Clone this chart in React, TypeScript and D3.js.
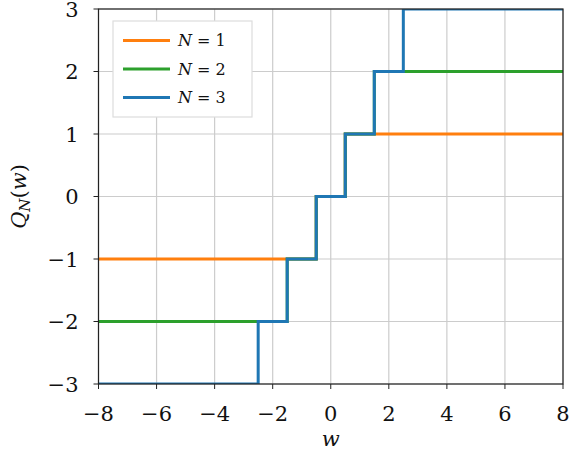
import React from "react";
import * as d3 from "d3";

const xEdges = [-8, -2.5, -1.5, -0.5, 0.5, 1.5, 2.5, 8];
const n1Levels = [-1, -1, -1, 0, 1, 1, 1];
const n2Levels = [-2, -2, -1, 0, 1, 2, 2];
const n3Levels = [-3, -2, -1, 0, 1, 2, 3];
const seriesNames = ["N = 1", "N = 2", "N = 3"];
const seriesNs = ["1", "2", "3"];
const seriesColors = ["#ff7f0e", "#2ca02c", "#1f77b4"];
const xTicks = [-8, -6, -4, -2, 0, 2, 4, 6, 8];
const yTicks = [-3, -2, -1, 0, 1, 2, 3];

const W = 570, H = 456;
const L = 98.5, R = 563, T = 9, B = 384;
const FONT = "'DejaVu Serif', serif";

const fmt = (v: number) => (v < 0 ? "\u2212" + Math.abs(v) : String(v));

export default function App() {
  const x = d3.scaleLinear().domain([-8, 8]).range([L, R]);
  const y = d3.scaleLinear().domain([-3, 3]).range([B, T]);
  const line = d3
    .line<[number, number]>()
    .x((d) => x(d[0]))
    .y((d) => y(d[1]))
    .curve(d3.curveStepAfter);
  const mk = (levels: number[]) => {
    const pts: [number, number][] = levels.map((l, i) => [xEdges[i], l]);
    pts.push([xEdges[xEdges.length - 1], levels[levels.length - 1]]);
    return line(pts) || "";
  };
  const allLevels = [n1Levels, n2Levels, n3Levels];

  return (
    <svg width={W} height={H} style={{ position: "absolute", left: 0, top: 0, fontFamily: FONT }}>
      <defs>
        <clipPath id="plotclip">
          <rect x={L} y={T} width={R - L} height={B - T} />
        </clipPath>
      </defs>
      <rect x={0} y={0} width={W} height={H} fill="white" />
      {xTicks.map((t) => (
        <line key={"gx" + t} x1={x(t)} x2={x(t)} y1={T} y2={B} stroke="#cccccc" strokeWidth={1.2} />
      ))}
      {yTicks.map((t) => (
        <line key={"gy" + t} x1={L} x2={R} y1={y(t)} y2={y(t)} stroke="#cccccc" strokeWidth={1.2} />
      ))}
      <g clipPath="url(#plotclip)">
        {allLevels.map((lv, i) => (
          <path key={i} d={mk(lv)} fill="none" stroke={seriesColors[i]} strokeWidth={3} />
        ))}
      </g>
      <rect x={L} y={T} width={R - L} height={B - T} fill="none" stroke="#222" strokeWidth={1.2} />
      {xTicks.map((t) => (
        <g key={"tx" + t}>
          <line x1={x(t)} x2={x(t)} y1={B} y2={B + 5} stroke="#222" strokeWidth={1} />
          <text x={x(t)} y={B + 37} textAnchor="middle" fontSize={21} fill="#111" style={{ fontFamily: FONT }}>
            {fmt(t)}
          </text>
        </g>
      ))}
      {yTicks.map((t) => (
        <g key={"ty" + t}>
          <line x1={L - 5} x2={L} y1={y(t)} y2={y(t)} stroke="#222" strokeWidth={1} />
          <text x={L - 20} y={y(t)} dy="0.36em" textAnchor="end" fontSize={21} fill="#111" style={{ fontFamily: FONT }}>
            {fmt(t)}
          </text>
        </g>
      ))}
      <text x={(L + R) / 2} y={446} textAnchor="middle" fontSize={21} fontStyle="italic" fill="#111" style={{ fontFamily: FONT }}>
        w
      </text>
      <text
        transform={`translate(26,${(T + B) / 2}) rotate(-90)`}
        textAnchor="middle"
        fontSize={21}
        fill="#111"
        style={{ fontFamily: FONT }}
      >
        <tspan fontStyle="italic">Q</tspan>
        <tspan fontStyle="italic" fontSize={15} dy={4}>N</tspan>
        <tspan dy={-4}>(</tspan>
        <tspan fontStyle="italic">w</tspan>
        <tspan>)</tspan>
      </text>
      <g>
        <rect x={113} y={21} width={139} height={96} fill="white" stroke="#dddddd" strokeWidth={1.2} />
        {seriesNames.map((s, i) => {
          const ly = 40.5 + i * 28.5;
          return (
            <g key={s}>
              <line x1={123} x2={170} y1={ly} y2={ly} stroke={seriesColors[i]} strokeWidth={3} />
              <text x={178} y={ly} dy="0.36em" fontSize={16} fill="#111" style={{ fontFamily: FONT }}>
                <tspan fontStyle="italic">N</tspan>
                <tspan>{" = " + seriesNs[i]}</tspan>
              </text>
            </g>
          );
        })}
      </g>
    </svg>
  );
}
